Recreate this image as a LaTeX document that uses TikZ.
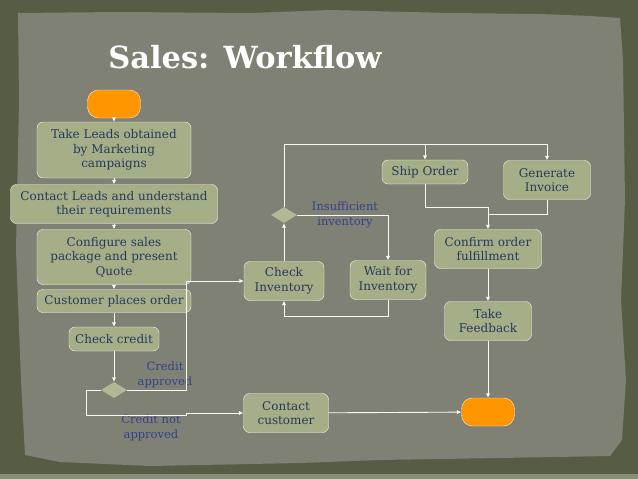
\documentclass[tikz,border=0pt]{standalone}
\usepackage{fontspec}
\setmainfont{DejaVu Serif}
\usetikzlibrary{arrows.meta}
\usetikzlibrary{shapes.geometric}
\definecolor{mframe}{RGB}{86,93,68}
\definecolor{mpaper}{RGB}{127,129,117}
\definecolor{mbox}{RGB}{166,174,136}
\definecolor{mdiam}{RGB}{178,184,148}
\definecolor{mtext}{RGB}{38,58,92}
\definecolor{mlabel}{RGB}{52,66,140}
\definecolor{morange}{RGB}{255,150,0}
\tikzset{act/.style = {draw=white!90!mbox, fill=mbox, rounded corners=6, text=mtext, align=center, inner sep=0, font=\fontsize{12}{14.5}\selectfont}}
\tikzset{term/.style = {draw=white!75!morange, fill=morange, rounded corners=11, minimum width=53, minimum height=28}}
\tikzset{dec/.style = {diamond, fill=mdiam, inner sep=0, minimum width=26, minimum height=16}}
\tikzset{guard/.style = {text=mlabel, align=center, inner sep=0, font=\fontsize{11.5}{14.5}\selectfont}}
\tikzset{wire/.style = {draw=white!92!mbox, line width=0.9}}
\tikzset{flow/.style = {wire, -{Latex[length=4.5,width=4.5]}}}

\begin{document}
\begin{tikzpicture}[x=1pt, y=-1pt]
    \useasboundingbox (0,0) rectangle (638,479);
    \fill[mframe] (0,0) rectangle (638,479);
    \fill[mframe!70!white] (0,474) rectangle (638,479);
    % paper
    \fill[mpaper] (18,13) -- (120,12) -- (250,13) -- (330,10) -- (450,13) -- (540,14) -- (590,16)
      -- (620,18) -- (623,60) -- (625,200) -- (621,300) -- (626,380) -- (622,440) -- (610,456)
      -- (500,458) -- (380,460) -- (300,463) -- (150,466) -- (60,462) -- (25,455) -- (21,380)
      -- (16,250) -- (19,100) -- cycle;

    \node[text=white, font=\fontsize{30.5}{34}\bfseries] (title) at (245,57) {Sales: Workflow};

    \node[term] (start) at (114,104) {};
    \node[act, minimum width=154, minimum height=56] (leads) at (114,150) {Take Leads obtained\\ by Marketing\\ campaigns};
    \node[act, minimum width=207, minimum height=39] (contact) at (114,204) {Contact Leads and understand\\ their requirements};
    \node[act, minimum width=154, minimum height=55] (config) at (114,257) {Configure sales\\ package and present\\ Quote};
    \node[act, minimum width=154, minimum height=23] (order) at (114,301) {Customer places order};
    \node[act, minimum width=90, minimum height=24] (credit) at (114,339) {Check credit};
    \node[dec] (dcredit) at (114,390) {};
    \node[act, minimum width=80, minimum height=39] (stock) at (284,281) {Check\\ Inventory};
    \node[act, minimum width=76, minimum height=39] (wait) at (388,280) {Wait for\\ Inventory};
    \node[dec] (dstock) at (284,215) {};
    \node[act, minimum width=86, minimum height=24] (ship) at (425,172) {Ship Order};
    \node[act, minimum width=87, minimum height=39] (invoice) at (547,180) {Generate\\ Invoice};
    \node[act, minimum width=107, minimum height=39] (confirm) at (488,249) {Confirm order\\ fulfillment};
    \node[act, minimum width=87, minimum height=39] (feedback) at (488,321) {Take\\ Feedback};
    \node[act, minimum width=85, minimum height=39] (call) at (286,413) {Contact\\ customer};
    \node[term] (stop) at (488,412) {};

    \node[guard] (lok) at (165,375) {Credit\\ approved};
    \node[guard] (lno) at (151,428) {Credit not\\ approved};
    \node[guard] (lshort) at (345,215) {Insufficient\\ inventory};

    \coordinate (okbend) at (186,281);
    \coordinate (nobend) at (86,415);
    \coordinate (nojog) at (186,415);
    \coordinate (fork) at (284,144);
    \coordinate (loop) at (284,316);
    \coordinate (join) at (488,207);
    \coordinate (join2) at (488,214);

    \draw[flow] (start) -- (leads);
    \draw[flow] (leads) -- (contact);
    \draw[flow] (contact) -- (config);
    \draw[flow] (config) -- (order);
    \draw[flow] (order) -- (credit);
    \draw[flow] (credit) -- (dcredit);
    \draw[flow] (dcredit.east) -| (okbend) -- (stock.west);
    \draw[flow] (dcredit.west) -| (nobend) -- (nojog) |- (call.west);
    \draw[flow] (stock) -- (dstock);
    \draw[flow] (dstock.north) -- (fork) -| (ship.north);
    \draw[flow] (fork) -| (invoice.north);
    \draw[flow] (dstock.east) -| (wait.north);
    \draw[flow] (wait.south) |- (loop) -- (stock.south);
    \draw[flow] (ship.south) |- (join) -- (confirm.north);
    \draw[wire] (invoice.south) |- (join2);
    \draw[flow] (confirm) -- (feedback);
    \draw[flow] (feedback) -- (stop);
    \draw[flow] (call) -- (stop);
  \end{tikzpicture}
\end{document}
